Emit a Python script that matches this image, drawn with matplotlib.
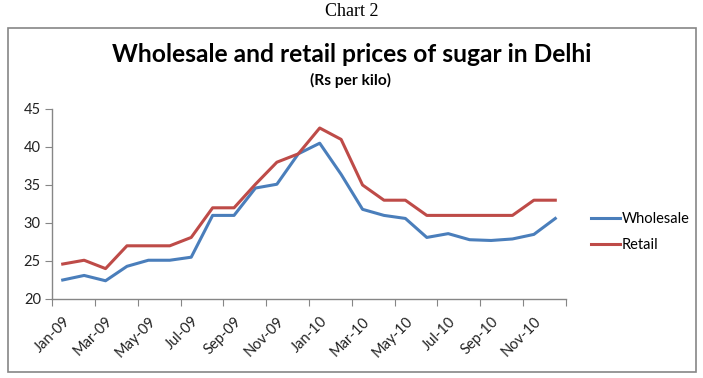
import matplotlib
matplotlib.use('Agg')
import matplotlib.pyplot as plt
import numpy as np
from matplotlib.patches import Rectangle

months = ['Jan-09', 'Feb-09', 'Mar-09', 'Apr-09', 'May-09', 'Jun-09',
          'Jul-09', 'Aug-09', 'Sep-09', 'Oct-09', 'Nov-09', 'Dec-09',
          'Jan-10', 'Feb-10', 'Mar-10', 'Apr-10', 'May-10', 'Jun-10',
          'Jul-10', 'Aug-10', 'Sep-10', 'Oct-10', 'Nov-10', 'Dec-10']
wholesale = [22.5, 23.1, 22.4, 24.3, 25.1, 25.1, 25.5, 31.0, 31.0, 34.6, 35.1, 39.1,
             40.5, 36.4, 31.8, 31.0, 30.6, 28.1, 28.6, 27.8, 27.7, 27.9, 28.5, 30.6]
retail = [24.6, 25.1, 24.0, 27.0, 27.0, 27.0, 28.1, 32.0, 32.0, 35.1, 38.0, 39.1,
          42.5, 41.0, 35.0, 33.0, 33.0, 31.0, 31.0, 31.0, 31.0, 31.0, 33.0, 33.0]
y_ticks = [20, 25, 30, 35, 40, 45]

plt.rcParams['font.family'] = ['Lato', 'DejaVu Sans']
W, H = 703, 378
fig = plt.figure(figsize=(W / 100, H / 100), dpi=100)
fig.patch.set_facecolor('white')

# outer chart frame
fig.patches.append(Rectangle((8 / W, 1 - 372 / H), 688 / W, 344 / H,
                             transform=fig.transFigure, fill=False,
                             edgecolor='#868686', linewidth=1.2))

fig.text(352 / W, 1 - 12 / H, 'Chart 2', ha='center', va='center',
         fontsize=13, family='Liberation Serif')
fig.text(352 / W, 1 - 54 / H, 'Wholesale and retail prices of sugar in Delhi',
         ha='center', va='center', fontsize=17.7, fontweight='bold')
fig.text(350 / W, 1 - 80 / H, '(Rs per kilo)', ha='center', va='center',
         fontsize=11.2, fontweight='bold')

ax = fig.add_axes([52 / W, 1 - 299 / H, 514 / W, 190 / H])
x = np.arange(len(months))
ax.plot(x, wholesale, color='#4A7EBB', linewidth=2.2, label='Wholesale',
        solid_joinstyle='round')
ax.plot(x, retail, color='#BE4B48', linewidth=2.2, label='Retail',
        solid_joinstyle='round')

ax.set_xlim(-0.5, len(months) - 0.5)
ax.set_ylim(20, 45)
ax.set_yticks(y_ticks)
ax.set_yticklabels([str(v) for v in y_ticks], fontsize=10.5, color='#222222')

ax.set_xticks(np.arange(-0.5, len(months), 2))
ax.set_xticklabels([])
ax.set_xticks(x[::2], minor=True)
ax.set_xticklabels(months[::2], minor=True, rotation=45, ha='right',
                   rotation_mode='anchor', fontsize=10.5, color='#222222')
ax.tick_params(axis='x', which='major', length=5, color='#868686', direction='out')
ax.tick_params(axis='x', which='minor', length=0, pad=11)
ax.tick_params(axis='y', length=5, color='#868686', direction='out', pad=3)

for s in ['top', 'right']:
    ax.spines[s].set_visible(False)
for s in ['left', 'bottom']:
    ax.spines[s].set_color('#868686')
    ax.spines[s].set_linewidth(1)

ax.legend(loc='center left', bbox_to_anchor=(585 / W, 1 - 232 / H),
          bbox_transform=fig.transFigure, frameon=False, fontsize=10.5,
          handlelength=2.0, handletextpad=0.1, labelspacing=0.85,
          borderaxespad=0)

plt.savefig('out.png', dpi=100, facecolor='white')
